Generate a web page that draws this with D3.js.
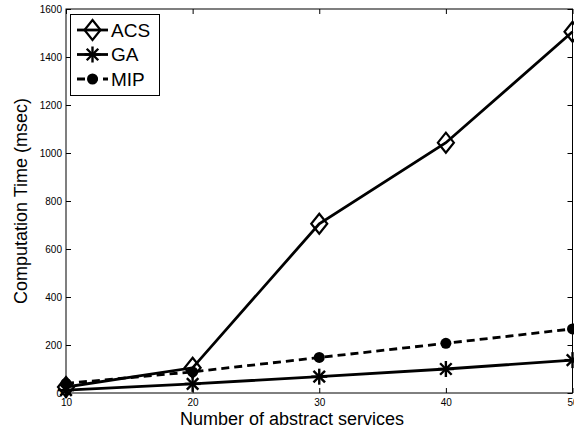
<!DOCTYPE html>
<html>
<head>
<meta charset="utf-8">
<script src="https://cdn.jsdelivr.net/npm/d3@7/dist/d3.min.js"></script>
<style>
  html, body { margin: 0; padding: 0; background: #fff; }
  svg { display: block; font-family: "Liberation Sans", Arial, sans-serif; }
</style>
</head>
<body>
<svg id="chart" width="574" height="433"></svg>
<script>
// Number of abstract services on the x axis
const services = [10, 20, 30, 40, 50];
// Computation time in msec for each algorithm
const acsTimes = [25, 105, 705, 1043, 1505];
const gaTimes = [12, 38, 68, 100, 137];
const mipTimes = [40, 88, 148, 207, 267];
// Tick values
const xTicks = [10, 20, 30, 40, 50];
const yTicks = [0, 200, 400, 600, 800, 1000, 1200, 1400, 1600];

const svg = d3.select("#chart");
const plotLeft = 66, plotRight = 572.5, plotTop = 9, plotBottom = 393;

const x = d3.scaleLinear().domain([10, 50]).range([plotLeft, plotRight]);
const y = d3.scaleLinear().domain([0, 1600]).range([plotBottom, plotTop]);

const series = [
  { name: "ACS", values: acsTimes, marker: "diamond", dash: null },
  { name: "GA", values: gaTimes, marker: "star", dash: null },
  { name: "MIP", values: mipTimes, marker: "dot", dash: "8,5" }
];

// Axes with inward ticks on all four sides (box style)
const tickLen = 5;
const axB = svg.append("g").attr("transform", `translate(0,${plotBottom})`)
  .call(d3.axisBottom(x).tickValues(xTicks).tickSizeInner(-tickLen).tickSizeOuter(0).tickPadding(6).tickFormat(d3.format("d")));
const axT = svg.append("g").attr("transform", `translate(0,${plotTop})`)
  .call(d3.axisTop(x).tickValues(xTicks).tickSizeInner(-tickLen).tickSizeOuter(0).tickFormat(""));
const axL = svg.append("g").attr("transform", `translate(${plotLeft},0)`)
  .call(d3.axisLeft(y).tickValues(yTicks).tickSizeInner(-tickLen).tickSizeOuter(0).tickPadding(4).tickFormat(d3.format("d")));
const axR = svg.append("g").attr("transform", `translate(${plotRight},0)`)
  .call(d3.axisRight(y).tickValues(yTicks).tickSizeInner(-tickLen).tickSizeOuter(0).tickFormat(""));

[axB, axT, axL, axR].forEach(g => {
  g.select(".domain").remove();
  g.selectAll(".tick line").attr("stroke", "#000").attr("stroke-width", 1);
  g.selectAll("text").attr("fill", "#000").attr("font-size", 10)
    .attr("font-family", "Liberation Sans, Arial, sans-serif");
});

// Box frame
svg.append("rect")
  .attr("x", plotLeft).attr("y", plotTop)
  .attr("width", plotRight - plotLeft).attr("height", plotBottom - plotTop)
  .attr("fill", "none").attr("stroke", "#000").attr("stroke-width", 1);

// Marker drawing helper
function drawMarker(g, type, cx, cy) {
  if (type === "diamond") {
    const r = 10;
    g.append("path")
      .attr("d", `M${cx},${cy - r}L${cx + r * 0.8},${cy}L${cx},${cy + r}L${cx - r * 0.8},${cy}Z`)
      .attr("fill", "none").attr("stroke", "#000").attr("stroke-width", 2.2);
  } else if (type === "star") {
    const r = 8;
    const gg = g.append("g").attr("stroke", "#000").attr("stroke-width", 2.4);
    gg.append("line").attr("x1", cx - r).attr("x2", cx + r).attr("y1", cy).attr("y2", cy);
    gg.append("line").attr("x1", cx).attr("x2", cx).attr("y1", cy - r).attr("y2", cy + r);
    const d = r * 0.72;
    gg.append("line").attr("x1", cx - d).attr("x2", cx + d).attr("y1", cy - d).attr("y2", cy + d);
    gg.append("line").attr("x1", cx - d).attr("x2", cx + d).attr("y1", cy + d).attr("y2", cy - d);
  } else {
    g.append("circle").attr("cx", cx).attr("cy", cy).attr("r", 5.5).attr("fill", "#000");
  }
}

const line = d3.line().x((d, i) => x(services[i])).y(d => y(d));
const plot = svg.append("g");
series.forEach(s => {
  plot.append("path")
    .datum(s.values)
    .attr("d", line)
    .attr("fill", "none")
    .attr("stroke", "#000")
    .attr("stroke-width", 2.8)
    .attr("stroke-dasharray", s.dash);
  const mg = plot.append("g");
  s.values.forEach((v, i) => drawMarker(mg, s.marker, x(services[i]), y(v)));
});

// Legend
const lg = svg.append("g");
lg.append("rect").attr("x", 70.5).attr("y", 14.5).attr("width", 89).attr("height", 81)
  .attr("fill", "#fff").attr("stroke", "#000").attr("stroke-width", 1);
series.forEach((s, i) => {
  const cy = 30 + i * 24.5;
  lg.append("line").attr("x1", 77).attr("x2", 108).attr("y1", cy).attr("y2", cy)
    .attr("stroke", "#000").attr("stroke-width", 2.8).attr("stroke-dasharray", s.dash);
  drawMarker(lg, s.marker, 92.5, cy);
  lg.append("text").attr("x", 111).attr("y", cy).attr("dy", "0.36em")
    .attr("font-size", 19).attr("fill", "#000").text(s.name);
});

// Axis titles
svg.append("text").attr("x", 292).attr("y", 425).attr("text-anchor", "middle")
  .attr("font-size", 18).attr("fill", "#000").text("Number of abstract services");
svg.append("text").attr("transform", `translate(27,${(plotTop + plotBottom) / 2}) rotate(-90)`)
  .attr("text-anchor", "middle").attr("font-size", 18).attr("fill", "#000")
  .text("Computation Time (msec)");
</script>
</body>
</html>
